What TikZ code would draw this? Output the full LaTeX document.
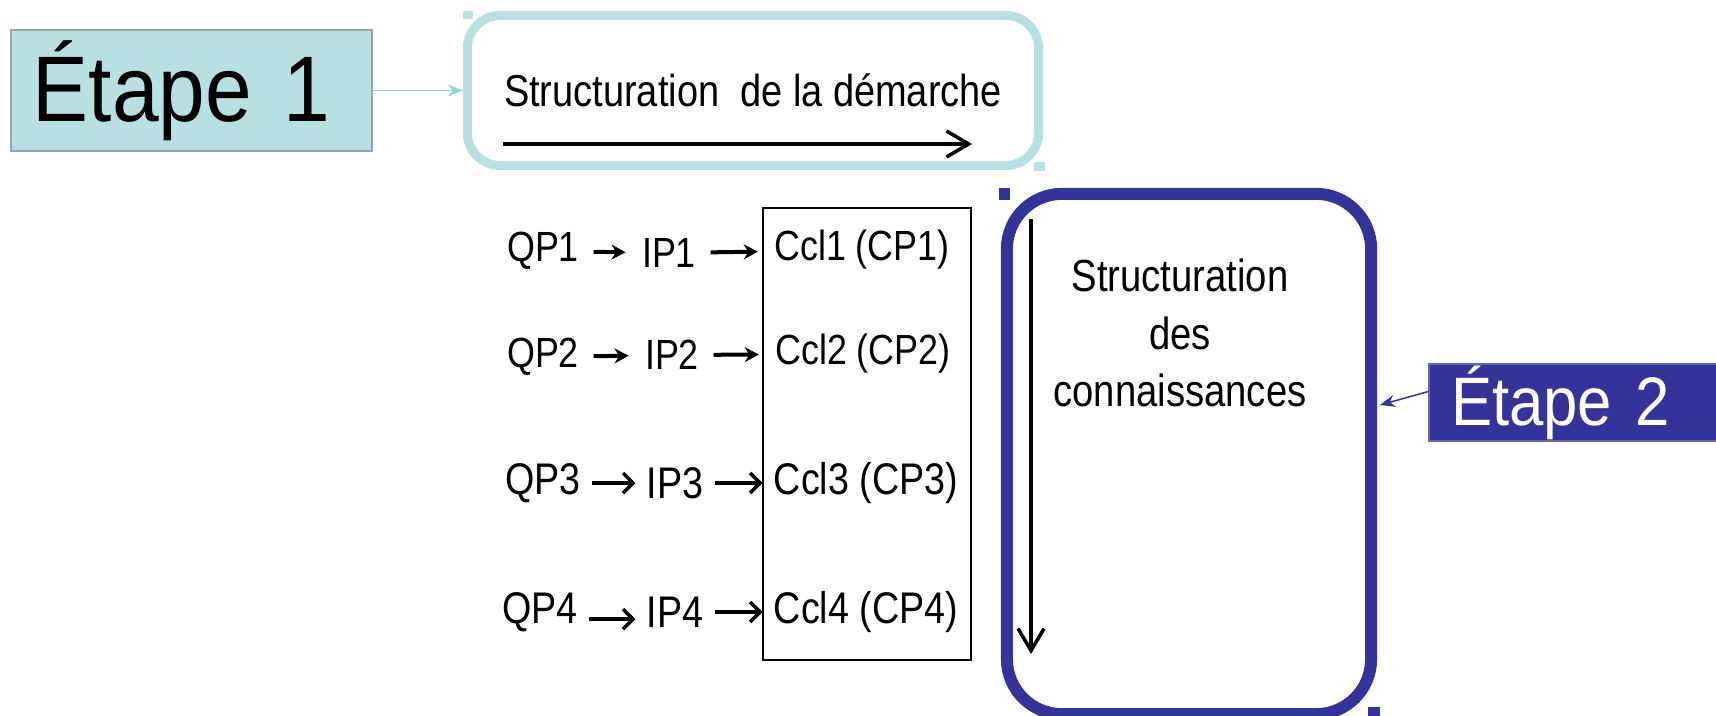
\documentclass[tikz,border=0pt]{standalone}
\usepackage{fontspec}
\setmainfont{Liberation Sans}
\newfontfamily\narrowsf[FakeStretch=0.85]{Liberation Sans}
\newfontfamily\etapesf[FakeStretch=0.9]{Liberation Sans}
\usetikzlibrary{arrows.meta}
\definecolor{etapeun}{RGB}{184,223,226}
\definecolor{etapeunline}{RGB}{142,169,172}
\definecolor{bleu}{RGB}{51,51,153}
\tikzset{
  rowtxt/.style={font=\narrowsf\fontsize{12}{14}\selectfont},
  rowtxtb/.style={font=\narrowsf\fontsize{12.6}{14}\selectfont},
  rowarrow/.style={line width=0.04cm,-{Stealth[length=0.14cm,width=0.15cm]},shorten <=4pt,shorten >=4.5pt},
  rowbarb/.style={line width=0.035cm,-{Straight Barb[length=0.1cm,width=0.2cm]},shorten <=3pt,shorten >=3pt},
  bigbarb/.style={line width=0.035cm,-{Straight Barb[length=0.22cm,width=0.26cm]}}
}
\begin{document}
\begin{tikzpicture}[x=0.01cm,y=-0.01cm]
\tikzstyle{every node}+=[inner sep=0pt]
\useasboundingbox (0,0) rectangle (1716,715);
% etape 1
\node[draw=etapeunline,fill=etapeun,line width=0.02cm,text width=3.17cm,align=left,inner xsep=0.22cm,minimum height=1.21cm,font=\etapesf\fontsize{26.5}{30}\selectfont] (etape1) at (191.5,90.5) {Étape 1};
\node[draw=etapeun,line width=0.09cm,rounded corners=0.33cm,minimum width=5.71cm,minimum height=1.5cm,font=\narrowsf\fontsize{12.7}{15}\selectfont] (demarche) at (753,90.5) {Structuration\ \ de la démarche};
\fill[etapeun] (463,11) rectangle (473,19);
\fill[etapeun] (1034,162) rectangle (1045,171);
\draw[etapeun!85!teal,line width=0.015cm,-{Stealth[length=0.15cm,width=0.12cm]}] (etape1) -- (demarche);
\coordinate (dm1) at (503,144);
\coordinate (dm2) at (972,144);
\draw[bigbarb] (dm1) -- (dm2);
% rows
\node[draw,line width=0.015cm,minimum width=2.08cm,minimum height=4.52cm] (cclbox) at (867,434) {};
\node[rowtxt] (qp1) at (543,251) {QP1};
\node[rowtxt] (ip1) at (669,253) {IP1};
\node[rowtxt] (ccl1) at (862,250) {Ccl1 (CP1)};
\node[rowtxt] (qp2) at (543,357) {QP2};
\node[rowtxt] (ip2) at (672,355) {IP2};
\node[rowtxt] (ccl2) at (863,354) {Ccl2 (CP2)};
\node[rowtxtb] (qp3) at (543,483) {QP3};
\node[rowtxtb] (ip3) at (675,483) {IP3};
\node[rowtxtb] (ccl3) at (866,483) {Ccl3 (CP3)};
\node[rowtxtb] (qp4) at (540,612) {QP4};
\node[rowtxtb] (ip4) at (675,612) {IP4};
\node[rowtxtb] (ccl4) at (866,612) {Ccl4 (CP4)};
\draw[rowarrow] (qp1) -- (ip1);
\draw[rowarrow] (ip1) -- (ccl1);
\draw[rowarrow] (qp2) -- (ip2);
\draw[rowarrow] (ip2) -- (ccl2);
\draw[rowbarb] (qp3) -- (ip3);
\draw[rowbarb] (ip3) -- (ccl3);
\draw[rowbarb] ([yshift=-2pt]qp4.east) -- ([yshift=-2pt]ip4.west);
\draw[rowbarb] (ip4) -- (ccl4);
% etape 2
\node[draw=bleu,line width=0.12cm,rounded corners=0.55cm,minimum width=3.64cm,minimum height=5.2cm] (connais) at (1189,454) {};
\node[align=center,font=\narrowsf\fontsize{12.8}{16.4}\selectfont] (connaisTxt) at (1180,333) {Structuration\\des\\connaissances};
\fill[bleu] (999,188) rectangle (1010,200);
\fill[bleu] (1368,707) rectangle (1380,716);
\coordinate (dc1) at (1031,219);
\coordinate (dc2) at (1031,654);
\draw[bigbarb] (dc1) -- (dc2);
\node[draw=bleu!75!white,fill=bleu,line width=0.02cm,anchor=west,text width=2.53cm,align=left,inner xsep=0.22cm,minimum height=0.77cm,text=white,font=\etapesf\fontsize{19.5}{22}\selectfont] (etape2) at (1428,402.5) {Étape 2};
\coordinate (tip2) at (1380,405);
\draw[bleu,line width=0.015cm,-{Stealth[length=0.15cm,width=0.12cm]}] ([yshift=3.1pt]etape2.west) -- (tip2);
\end{tikzpicture}
\end{document}
